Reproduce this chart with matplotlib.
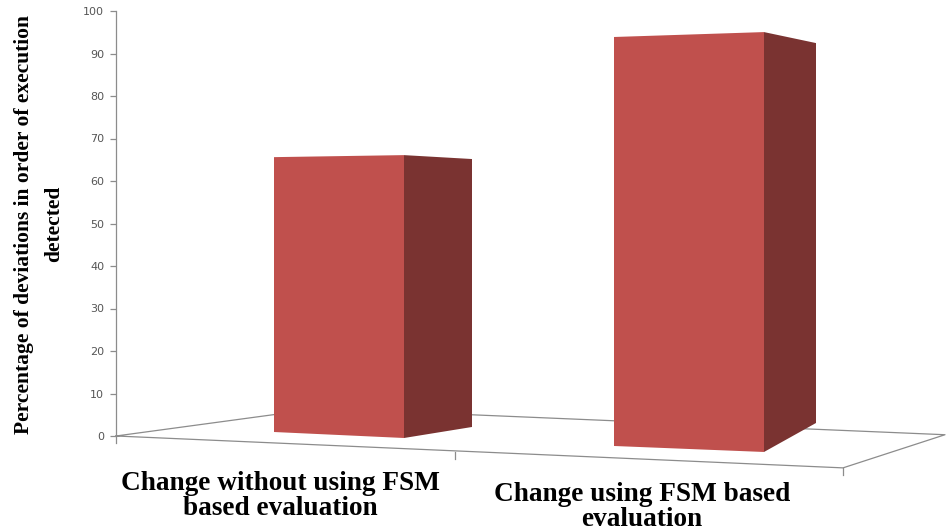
import matplotlib as mpl
import matplotlib.pyplot as plt
from matplotlib.patches import Polygon

mpl.rc('font', family='Liberation Sans')

categories = ["Change without using FSM\nbased evaluation", "Change using FSM based\nevaluation"]
values = [65, 95]
y_ticks = [0, 10, 20, 30, 40, 50, 60, 70, 80, 90, 100]
y_title = "Percentage of deviations in order of execution\ndetected"

#------------------------------------------------------------------------------
# fake 3d look: x of the three visible corners, where the base sits (in axis
# units) and how much one unit of value grows at that corner

bar_x = [(158, 288, 356), (498, 648, 700)]
bar_base = [(0.94, -0.47, 2.12), (-2.35, -3.76, 3.06)]
bar_grow = [(0.995, 1.024, 0.970), (1.013, 1.040, 0.941)]

front_col = '#C0504D'
side_col = '#7A3331'
line_col = '#8C8C8C'

fig = plt.figure(figsize=(9.46, 5.31), dpi=100)
ax = fig.add_axes([116/946, (531-436)/531, 830/946, 425/531])
ax.set_xlim(0, 830)
ax.set_ylim(0, 100)

for s in ['top', 'right', 'bottom']:
    ax.spines[s].set_visible(False)
ax.spines['left'].set_color(line_col)
ax.spines['left'].set_linewidth(0.9)
ax.set_xticks([])
ax.set_yticks(y_ticks)
ax.tick_params(axis='y', length=4.5, width=0.9, color=line_col, labelcolor='#555555',
               labelsize=8, pad=4)
for lab in ax.get_yticklabels():
    lab.set_family('DejaVu Sans')

# floor
floor_x = [0, 727, 829, 204, 0]
floor_y = [0, -7.5, 0.3, 6.5, 0]
ax.plot(floor_x, floor_y, color=line_col, lw=0.9, clip_on=False, zorder=1)

# little ticks under the floor
for tx, ty in [(0, 0), (339, -3.8), (727, -7.5)]:
    ax.plot([tx, tx], [ty, ty-1.6], color=line_col, lw=0.9, clip_on=False, zorder=1)

for i in range(len(values)):
    x = bar_x[i]
    base = bar_base[i]
    tops = [base[k] + values[i]*bar_grow[i][k] for k in range(3)]
    front = [(x[0], base[0]), (x[1], base[1]), (x[1], tops[1]), (x[0], tops[0])]
    side = [(x[1], base[1]), (x[2], base[2]), (x[2], tops[2]), (x[1], tops[1])]
    ax.add_patch(Polygon(front, closed=True, fc=front_col, ec='none', clip_on=False, zorder=3))
    ax.add_patch(Polygon(side, closed=True, fc=side_col, ec='none', clip_on=False, zorder=3))

# category labels
label_pos = [(280.5/946, 1-(496/531)), (642/946, 1-(507/531))]
for i in range(len(categories)):
    fig.text(label_pos[i][0], label_pos[i][1], categories[i], family='Liberation Serif',
             weight='bold', fontsize=19.6, ha='center', va='center', linespacing=0.98)

fig.text(39/946, 1-(224/531), y_title, family='Liberation Serif', weight='bold', fontsize=15.5,
         rotation=90, ha='center', va='center', multialignment='center', linespacing=1.65)

plt.savefig('out.png', dpi=100)
